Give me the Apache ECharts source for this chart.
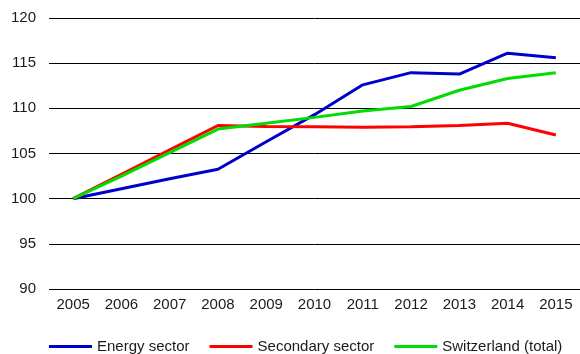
<!DOCTYPE html>
<html>
<head>
<meta charset="utf-8">
<script src="https://cdn.jsdelivr.net/npm/echarts@6/dist/echarts.min.js"></script>
<style>
  html, body { margin: 0; padding: 0; background: #fff; }
  #chart { width: 580px; height: 354px; }
</style>
</head>
<body>
<div id="chart"></div>
<script>
// Index values, 2005 = 100
const years = ['2005', '2006', '2007', '2008', '2009', '2010', '2011', '2012', '2013', '2014', '2015'];
const energySector = [100, 101.1, 102.2, 103.25, 106.3, 109.3, 112.6, 113.95, 113.8, 116.1, 115.6];
const secondarySector = [100, 102.7, 105.4, 108.1, 108.0, 107.95, 107.9, 107.95, 108.1, 108.35, 107.05];
const switzerlandTotal = [100, 102.5, 105.1, 107.7, 108.35, 109.0, 109.7, 110.2, 112.0, 113.3, 113.95];
const yTicks = { min: 90, max: 120, interval: 5 };

const font = 'Liberation Sans, Arial, sans-serif';

function lineSeries(name, data, color) {
  return {
    name: name,
    type: 'line',
    data: data,
    symbol: 'none',
    smooth: false,
    lineStyle: { color: color, width: 3 },
    itemStyle: { color: color },
    emphasis: { disabled: true }
  };
}

const chart = echarts.init(document.getElementById('chart'));
chart.setOption({
  animation: false,
  backgroundColor: '#ffffff',
  grid: { left: 49, right: 0, top: 18, bottom: 65, containLabel: false },
  xAxis: {
    type: 'category',
    data: years,
    boundaryGap: true,
    axisLine: { show: false },
    axisTick: { show: false },
    axisLabel: { color: '#1a1a1a', fontFamily: font, fontSize: 15, margin: 8 }
  },
  yAxis: {
    type: 'value',
    min: yTicks.min,
    max: yTicks.max,
    interval: yTicks.interval,
    axisLine: { show: false },
    axisTick: { show: false },
    axisLabel: { color: '#1a1a1a', fontFamily: font, fontSize: 15, margin: 13 },
    splitLine: { lineStyle: { color: '#000000', width: 1 } }
  },
  legend: {
    left: 44,
    top: 334,
    icon: 'rect',
    itemWidth: 43,
    itemHeight: 3,
    itemGap: 20,
    textStyle: { color: '#1a1a1a', fontFamily: font, fontSize: 15 },
    data: ['Energy sector', 'Secondary sector', 'Switzerland (total)']
  },
  series: [
    lineSeries('Energy sector', energySector, '#0000cc'),
    lineSeries('Secondary sector', secondarySector, '#ff0000'),
    lineSeries('Switzerland (total)', switzerlandTotal, '#00dd00')
  ]
});
</script>
</body>
</html>
